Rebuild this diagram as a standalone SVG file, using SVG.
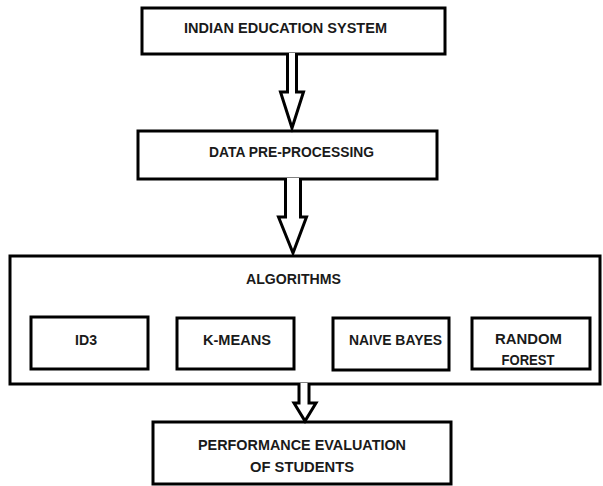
<svg xmlns="http://www.w3.org/2000/svg" width="603" height="486" viewBox="0 0 603 486">
<style>
.box{fill:#fff;stroke:#000;stroke-width:3}
.arr{fill:#fff;stroke:#000;stroke-width:3;stroke-linejoin:miter}
text{font-family:"Liberation Sans",Arial,sans-serif;font-weight:bold;font-size:14px;fill:#1a1a1a;text-anchor:middle}
</style>
<rect width="603" height="486" fill="#fff"/>
<g id="indian-education-system">
<rect class="box" x="142" y="8" width="303" height="46"/>
<text x="285.5" y="33" textLength="203" lengthAdjust="spacingAndGlyphs">INDIAN EDUCATION SYSTEM</text>
</g>
<g id="data-pre-processing">
<rect class="box" x="138" y="131" width="299" height="48"/>
<text x="291.5" y="157" textLength="165" lengthAdjust="spacingAndGlyphs">DATA PRE-PROCESSING</text>
</g>
<g id="algorithms">
<rect class="box" x="10" y="256" width="590" height="128"/>
<text x="293.5" y="284" textLength="95" lengthAdjust="spacingAndGlyphs">ALGORITHMS</text>
</g>
<g id="id3">
<rect class="box" x="31" y="317" width="117" height="52"/>
<text x="86" y="345" textLength="22" lengthAdjust="spacingAndGlyphs">ID3</text>
</g>
<g id="k-means">
<rect class="box" x="177" y="318" width="117" height="51"/>
<text x="237" y="345" textLength="68" lengthAdjust="spacingAndGlyphs">K-MEANS</text>
</g>
<g id="naive-bayes">
<rect class="box" x="333" y="318" width="116" height="52"/>
<text x="395.5" y="345" textLength="93" lengthAdjust="spacingAndGlyphs">NAIVE BAYES</text>
</g>
<g id="random-forest">
<rect class="box" x="472" y="318" width="118" height="51"/>
<text x="528.5" y="344" textLength="67" lengthAdjust="spacingAndGlyphs">RANDOM</text>
<text x="528" y="365" textLength="53" lengthAdjust="spacingAndGlyphs">FOREST</text>
</g>
<g id="performance-evaluation">
<rect class="box" x="153" y="422" width="298" height="62"/>
<text x="302" y="450" textLength="208" lengthAdjust="spacingAndGlyphs">PERFORMANCE EVALUATION</text>
<text x="302" y="472" textLength="104" lengthAdjust="spacingAndGlyphs">OF STUDENTS</text>
</g>
<g id="connectors">
<path class="arr" d="M287.5,53 V92 H280.5 L292,128 L303.5,92 H296.5 V53"/>
<path class="arr" d="M285.5,178 V217 H278.5 L293,253 L306.5,217 H300.5 V178"/>
<path class="arr" d="M299,383 V403 H294 L305,421 L316,403 H309 V383"/>
</g>
</svg>
